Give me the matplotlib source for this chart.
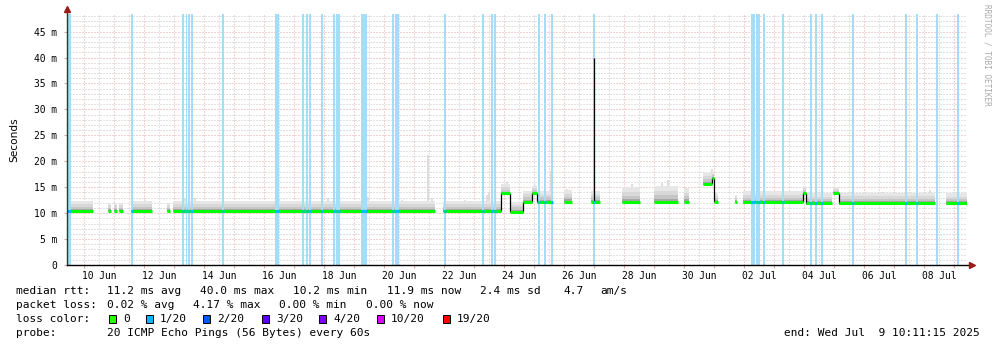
import matplotlib
matplotlib.use('Agg')
import matplotlib.pyplot as plt
import matplotlib.dates as mdates
from matplotlib.patches import Rectangle
import numpy as np
import pandas as pd

W, H = 997, 347
MONO = 'DejaVu Sans Mono'

GREEN = '#00ff00'
LOSS_BAR = '#a4ddf5'
LOSS_MED = '#00b8ff'
MGRID = '#e2a6a6'
GRID = '#c4c4c4'
ARROW = '#9b1b1b'

t_start = '2025-06-09 10:11:15'
t_end = '2025-07-09 10:11:15'

# median rtt runs: start, end, median (ms), top of smoke (ms)
seg_start = ['06-09 10:11', '06-10 19:00', '06-10 23:45', '06-11 03:45', '06-11 13:25',
             '06-12 18:10', '06-12 23:00', '06-21 23:00', '06-23 21:25', '06-24 04:35',
             '06-24 15:00', '06-24 22:10', '06-25 02:10', '06-25 23:45', '06-26 21:25',
             '06-27 22:10', '06-28 23:45', '06-29 23:45', '06-30 15:00', '06-30 22:10',
             '06-30 23:45', '07-01 16:35', '07-01 23:00', '07-03 23:00', '07-04 01:25',
             '07-04 23:00', '07-05 03:45', '07-08 17:25']
seg_end = ['06-10 06:45', '06-10 21:25', '06-11 02:10', '06-11 07:00', '06-12 06:10',
           '06-12 20:35', '06-21 16:35', '06-23 21:25', '06-24 04:35', '06-24 15:00',
           '06-24 22:10', '06-25 02:10', '06-25 14:10', '06-26 06:10', '06-27 04:35',
           '06-28 12:35', '06-29 19:00', '06-30 03:45', '06-30 22:10', '06-30 23:45',
           '07-01 03:00', '07-01 18:10', '07-03 23:00', '07-04 01:25', '07-04 22:10',
           '07-05 03:45', '07-08 08:35', '07-09 10:11']
seg_median = [10.4, 10.4, 10.4, 10.4, 10.4, 10.4, 10.4, 10.4, 13.8, 10.3,
              12.2, 13.8, 12.2, 12.2, 12.2, 12.2, 12.2, 12.2, 15.6, 16.8,
              12.2, 12.2, 12.1, 13.9, 11.9, 13.9, 11.9, 11.9]
seg_smoke = [12.3, 12.0, 12.0, 12.0, 12.3, 12.0, 12.4, 12.4, 15.6, 12.2,
             14.3, 15.3, 14.2, 14.5, 14.2, 15.0, 15.3, 14.8, 17.8, 18.0,
             13.8, 13.5, 14.2, 15.2, 13.8, 15.0, 13.9, 13.8]

# single tall ping spread columns
spike_time = ['06-09 12:35', '06-12 00:35', '06-13 08:35', '06-13 16:35', '06-16 11:47',
              '06-17 10:10', '06-18 03:00', '06-19 11:00', '06-20 14:10', '06-21 11:00',
              '06-21 14:10', '06-22 16:35', '06-23 10:10', '06-23 11:47', '06-24 02:10',
              '06-24 16:35', '06-25 00:35', '06-25 13:20', '06-26 02:10', '06-27 03:00',
              '06-28 06:10', '06-29 06:10', '06-29 11:00', '06-30 02:10', '06-30 22:10',
              '07-01 17:30', '07-02 11:00', '07-03 07:00', '07-03 23:55', '07-05 23:00',
              '07-06 15:00', '07-07 23:00', '07-08 04:35', '07-09 06:10']
spike_top = [13.2, 12.6, 12.8, 13.0, 12.8, 12.9, 12.9, 13.2, 12.6, 21.2,
             13.0, 12.6, 13.5, 13.8, 16.0, 14.1, 15.5, 18.2, 14.7, 14.3,
             15.6, 15.8, 16.4, 14.9, 18.6, 13.5, 14.1, 13.8, 15.1, 13.8,
             14.1, 13.8, 14.5, 13.8]

# median outlier
peak_time = '06-27 00:00'
peak_value = 40.0

# bins with packet loss
loss_time = ['06-09 11:00', '06-09 12:30', '06-11 14:10', '06-13 07:00', '06-13 09:45',
             '06-13 11:45', '06-13 14:10', '06-14 15:00', '06-16 09:25', '06-16 11:00',
             '06-17 07:00', '06-17 10:10', '06-17 12:35', '06-17 22:10', '06-18 07:45',
             '06-18 10:10', '06-18 11:45', '06-19 06:10', '06-19 07:45', '06-19 09:25',
             '06-20 07:00', '06-20 09:25', '06-20 11:00', '06-22 00:35', '06-23 07:00',
             '06-23 14:10', '06-23 16:35', '06-25 03:45', '06-25 08:35', '06-25 14:10',
             '06-26 23:45', '07-02 06:10', '07-02 07:45', '07-02 10:10', '07-02 11:45',
             '07-02 15:45', '07-03 07:00', '07-04 05:25', '07-04 09:25', '07-04 14:10',
             '07-05 15:00', '07-07 09:25', '07-07 18:10', '07-08 10:10', '07-09 03:00']

x_labels = ['10 Jun', '12 Jun', '14 Jun', '16 Jun', '18 Jun', '20 Jun', '22 Jun', '24 Jun',
            '26 Jun', '28 Jun', '30 Jun', '02 Jul', '04 Jul', '06 Jul', '08 Jul']
y_ticks = [0, 5, 10, 15, 20, 25, 30, 35, 40, 45]

loss_names = ['0', '1/20', '2/20', '3/20', '4/20', '10/20', '19/20']
loss_colors = ['#26ff00', '#00b8ff', '#0059ff', '#5e00ff', '#7e00ff', '#dd00ff', '#ff0000']

rtt_stats = ['11.2 ms avg', '40.0 ms max', '10.2 ms min', '11.9 ms now', '2.4 ms sd']
loss_stats = ['0.02 % avg', '4.17 % max', '0.00 % min', '0.00 % now']


def dn(s):
    if len(s) < 12:
        s = '2025-' + s
    return mdates.date2num(pd.Timestamp(s))


s0 = np.array([dn(s) for s in seg_start])
s1 = np.array([dn(s) for s in seg_end])
med = np.array(seg_median)
top = np.array(seg_smoke)


def median_at(t):
    i = np.searchsorted(s0, t, side='right') - 1
    if i < 0 or t > s1[i]:
        return None
    return med[i]


fig = plt.figure(figsize=(W / 100, H / 100), dpi=100, facecolor='white')
ax = fig.add_axes([67 / W, 82 / H, 900 / W, 251 / H])
ax.set_xlim(dn(t_start), dn(t_end))
ax.set_ylim(0, 48.4)
for sp in ax.spines.values():
    sp.set_visible(False)

# grid
dots = (0, (1, 2))
days = pd.date_range('2025-06-10', '2025-07-09', freq='D')
for d in days:
    ax.axvline(mdates.date2num(d), color=MGRID, lw=0.72, ls=dots, zorder=0)
    ax.axvline(mdates.date2num(d + pd.Timedelta(hours=12)), color=GRID, lw=0.72,
               ls=dots, zorder=0)
for v in range(1, 49):
    ax.axhline(v, color=MGRID if v % 5 == 0 else GRID, lw=0.72, ls=dots, zorder=0)

# smoke
spike_x = [dn(s) for s in spike_time]
for t, h in zip(spike_x, spike_top):
    m = median_at(t)
    if m is not None:
        ax.vlines(t, m, h, color='#d8d8d8', lw=1.2, zorder=1)
shades = [(1.0, '#e6e6e6'), (0.68, '#d8d8d8'), (0.42, '#c6c6c6'), (0.2, '#a6a6a6')]
for a, b, m, h in zip(s0, s1, med, top):
    for f, c in shades:
        ax.fill_between([a, b], m - 0.25, m + f * (h - m), color=c, lw=0, zorder=2)

# packet loss bars
loss_x = [dn(s) for s in loss_time]
half = 0.6 / 24
for t in loss_x:
    ax.axvspan(t - half, t + half, color=LOSS_BAR, lw=0, zorder=3)

# median line
for i in range(len(s0) - 1):
    if s1[i] == s0[i + 1]:
        ax.vlines(s1[i], min(med[i], med[i + 1]), max(med[i], med[i + 1]),
                  color='black', lw=0.9, zorder=4)
pk = dn(peak_time)
ax.vlines(pk, median_at(pk), peak_value, color='black', lw=0.9, zorder=4)
for a, b, m in zip(s0, s1, med):
    ax.plot([a, b], [m, m], color=GREEN, lw=2.2, solid_capstyle='butt', zorder=5)
for t in loss_x:
    m = median_at(t)
    if m is not None:
        ax.plot([t - half, t + half], [m, m], color=LOSS_MED, lw=2.2,
                solid_capstyle='butt', zorder=6)

# axes, ticks and arrows
ax.plot([0, 0], [0, 1.017], color='#333333', lw=1.0, transform=ax.transAxes,
        clip_on=False, zorder=7)
ax.plot([0, 1.006], [0, 0], color='black', lw=1.0, transform=ax.transAxes,
        clip_on=False, zorder=7)
ax.plot(0, 1.02, marker='^', ms=4.2, color=ARROW, mec=ARROW, transform=ax.transAxes,
        clip_on=False, zorder=8)
ax.plot(1.006, 0, marker='>', ms=4.2, color=ARROW, mec=ARROW, transform=ax.transAxes,
        clip_on=False, zorder=8)

label_pos = pd.date_range('2025-06-10 12:00', periods=len(x_labels), freq='2D')
ax.set_xticks(mdates.date2num(label_pos))
ax.set_xticklabels(x_labels, fontfamily=MONO, fontsize=6.9)
ax.set_xticks(mdates.date2num(days), minor=True)
ax.tick_params(axis='x', which='major', length=0, pad=4)
ax.tick_params(axis='x', which='minor', length=2.5, color=MGRID, width=0.8)
ax.set_yticks(y_ticks)
ax.set_yticklabels(['0' if v == 0 else f'{v} m' for v in y_ticks], fontfamily=MONO,
                   fontsize=6.9)
ax.tick_params(axis='y', length=2, color=MGRID, pad=5)
ax.set_ylabel('Seconds', fontsize=7.6, labelpad=11)

fig.text(987 / W, 1 - 4 / H, 'RRDTOOL / TOBI OETIKER', rotation=270, ha='center',
         va='top', fontfamily=MONO, fontsize=5.6, color='#aaaaaa')


# legend block
def ftext(x, y, s, **kw):
    fig.text(x / W, 1 - y / H, s, fontfamily=MONO, fontsize=8.0, va='center', **kw)


ftext(16, 291, 'median rtt:')
for x, s in zip([107, 200, 293, 387, 480], rtt_stats):
    ftext(x, 291, s)
ftext(563, 291, '4.7')
ftext(600, 291, 'am/s')
ftext(16, 305, 'packet loss:')
for x, s in zip([107, 193, 279, 366], loss_stats):
    ftext(x, 305, s)
ftext(16, 319, 'loss color:')
box_x = [109, 146, 203, 262, 319, 377, 443]
for bx, name, c in zip(box_x, loss_names, loss_colors):
    fig.add_artist(Rectangle((bx / W, 1 - 323 / H), 7 / W, 8 / H, facecolor=c,
                             edgecolor='black', lw=0.7, transform=fig.transFigure))
    ftext(bx + 14, 319, name)
ftext(16, 333, 'probe:')
ftext(107, 333, '20 ICMP Echo Pings (56 Bytes) every 60s')
ftext(980, 333, 'end: Wed Jul  9 10:11:15 2025', ha='right')

fig.savefig('out.png', dpi=100, facecolor='white')
